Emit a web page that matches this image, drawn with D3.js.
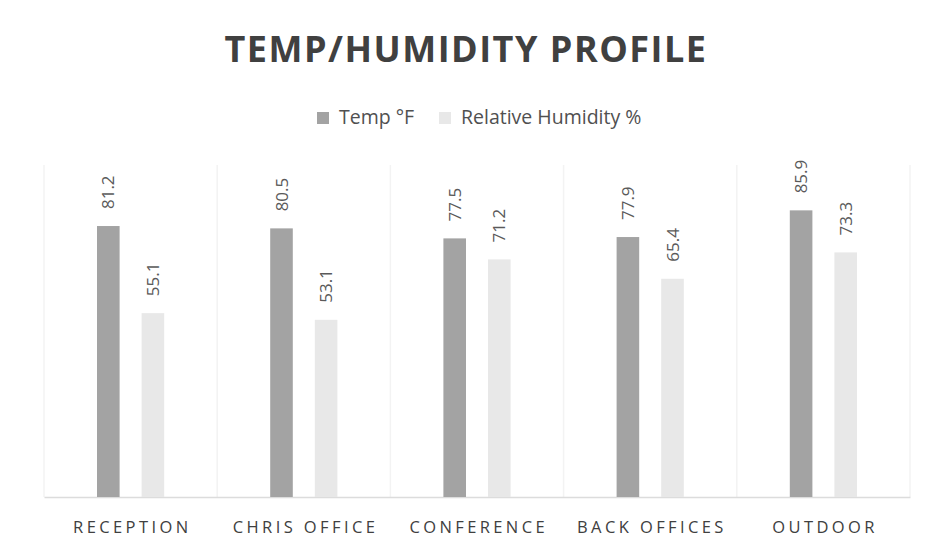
<!DOCTYPE html>
<html><head><meta charset="utf-8">
<script src="https://cdn.jsdelivr.net/npm/d3@7"></script>
<style>body{margin:0;background:#fff;}svg{display:block;}</style>
</head><body>
<script>
const categories = ["RECEPTION","CHRIS OFFICE","CONFERENCE","BACK OFFICES","OUTDOOR"];
const seriesNames = ["Temp °F","Relative Humidity %"];
const tempValues = [81.2, 80.5, 77.5, 77.9, 85.9];
const humidityValues = [55.1, 53.1, 71.2, 65.4, 73.3];
const colors = ["#a3a3a3", "#e8e8e8"];

const W = 925, H = 552;
const svg = d3.select("body").append("svg").attr("width", W).attr("height", H);
svg.append("rect").attr("width", W).attr("height", H).attr("fill", "#fff");

const pLeft = 44, pRight = 910, pTop = 163.3, pBottom = 497;
const x = d3.scaleBand().domain(categories).range([pLeft, pRight]).paddingInner(0).paddingOuter(0);
const y = d3.scaleLinear().domain([0, 100]).range([pBottom, pTop]);

// faint category separators
const seps = d3.range(categories.length + 1).map(i => pLeft + i * x.bandwidth());
svg.selectAll("line.sep").data(seps).enter().append("line")
  .attr("x1", d => d).attr("x2", d => d).attr("y1", 165).attr("y2", pBottom)
  .attr("stroke", "#f3f3f3").attr("stroke-width", 1.5);

// axis
const xAxis = svg.append("g").attr("transform", `translate(0,${pBottom})`)
  .call(d3.axisBottom(x).tickSize(0).tickPadding(24));
xAxis.select(".domain").attr("stroke", "#dcdcdc").attr("stroke-width", 1.5);
xAxis.selectAll("text").attr("font-family", "'Open Sans', sans-serif").attr("font-size", 16.5)
  .attr("letter-spacing", "3.4px").attr("dx", "1.7px").attr("fill", "#404040");

const data = categories.map((c, i) => ({c, vals: [tempValues[i], humidityValues[i]]}));
const bw = 22.6;
const g = svg.selectAll("g.cat").data(data).enter().append("g")
  .attr("transform", d => `translate(${x(d.c) + x.bandwidth() / 2},0)`);
const offsets = [-22.3, 22.3];
g.selectAll("rect").data(d => d.vals.map((v, j) => ({v, j}))).enter().append("rect")
  .attr("x", d => offsets[d.j] - bw / 2).attr("width", bw)
  .attr("y", d => y(d.v)).attr("height", d => pBottom - y(d.v))
  .attr("fill", d => colors[d.j]);
g.selectAll("text.lab").data(d => d.vals.map((v, j) => ({v, j}))).enter().append("text")
  .attr("transform", d => `translate(${offsets[d.j] + 6},${y(d.v) - 17}) rotate(-90)`)
  .attr("font-family", "'Open Sans', sans-serif").attr("font-size", 17)
  .attr("fill", "#5a5a5a").text(d => d.v.toFixed(1));

// title
svg.append("text").attr("x", 466).attr("y", 62).attr("text-anchor", "middle")
  .attr("font-family", "'Open Sans', sans-serif").attr("font-weight", "bold")
  .attr("font-size", 36).attr("letter-spacing", "1.5px").attr("fill", "#404040")
  .text("TEMP/HUMIDITY PROFILE");

// legend
const legend = [{name: seriesNames[0], x: 317, c: colors[0]}, {name: seriesNames[1], x: 439, c: colors[1]}];
const lg = svg.selectAll("g.leg").data(legend).enter().append("g");
lg.append("rect").attr("x", d => d.x).attr("y", 112).attr("width", 12).attr("height", 12).attr("fill", d => d.c);
lg.append("text").attr("x", d => d.x + 22).attr("y", 124)
  .attr("font-family", "'Open Sans', sans-serif").attr("font-size", 19.5).attr("fill", "#505050")
  .text(d => d.name);
</script>
</body></html>
